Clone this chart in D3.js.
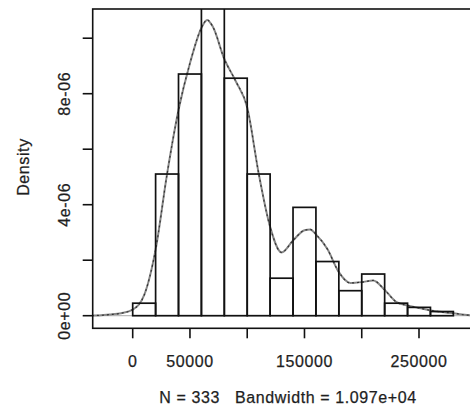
<!DOCTYPE html>
<html><head><meta charset="utf-8">
<script src="https://cdn.jsdelivr.net/npm/d3@7"></script>
<style>
html,body{margin:0;padding:0;background:#fff;}
svg{display:block;}
text{font-family:"Liberation Sans",Arial,sans-serif;fill:#1e1e1e;stroke:#1e1e1e;stroke-width:0.25;white-space:pre;letter-spacing:0.6px;}
</style></head>
<body>
<svg id="chart" width="470" height="409"></svg>
<script>
// Histogram (breaks and counts), N = 333
const N = 333;
const breaks = [0,20000,40000,60000,80000,100000,120000,140000,160000,180000,200000,220000,240000,260000,280000];
const counts = [3,34,58,77,57,34,9,26,13,6,10,3,2,1];

// Kernel density estimate (x, density)
const densX = [-40000,-30000,-20000,-10000,0,10000,20000,30000,40000,50000,60000,65000,70000,80000,90000,100000,110000,120000,130000,140000,150000,155000,160000,170000,180000,190000,200000,210000,220000,230000,240000,250000,260000,270000,280000,290000,300000];
const densY = [0.002e-6,0.01e-6,0.04e-6,0.09e-6,0.22e-6,0.74e-6,2.38e-6,5.1e-6,7.41e-6,9.1e-6,10.37e-6,10.66e-6,10.41e-6,9.25e-6,8.45e-6,7.5e-6,5.13e-6,3.2e-6,2.28e-6,2.71e-6,3.08e-6,3.11e-6,2.93e-6,2.4e-6,1.57e-6,1.18e-6,1.21e-6,1.27e-6,0.93e-6,0.5e-6,0.37e-6,0.28e-6,0.19e-6,0.13e-6,0.09e-6,0.03e-6,0.01e-6];

const xTicks = [0,50000,100000,150000,200000,250000];
const xTickLabels = ["0","50000","","150000","","250000"];
const yTicks = [0,2e-6,4e-6,6e-6,8e-6,1e-5];
const yTickLabels = ["0e+00","","4e-06","","8e-06",""];
const xTitle = "N = 333   Bandwidth = 1.097e+04";
const yTitle = "Density";

const svg = d3.select("#chart");
const box = {left:92.7, top:9, right:482, bottom:328.3};

const x = d3.scaleLinear().domain([0,250000]).range([132.7,419]);
const y = d3.scaleLinear().domain([0,1e-5]).range([315.7,38.2]);

svg.append("defs").append("clipPath").attr("id","clip")
  .append("rect").attr("x",box.left).attr("y",box.top)
  .attr("width",box.right-box.left).attr("height",box.bottom-box.top);

const plot = svg.append("g").attr("clip-path","url(#clip)");

// zero line
plot.append("line").attr("x1",box.left).attr("x2",box.right)
  .attr("y1",y(0)).attr("y2",y(0)).attr("stroke","#bbb").attr("stroke-width",1.2);

// density curve
const pts = densX.map((d,i)=>[d,densY[i]]);
const line = d3.line().x(d=>x(d[0])).y(d=>y(d[1])).curve(d3.curveMonotoneX);
plot.append("path").datum(pts).attr("d",line)
  .attr("fill","none").attr("stroke","#888").attr("stroke-width",2);
plot.append("path").datum(pts).attr("d",line)
  .attr("fill","none").attr("stroke","#333").attr("stroke-width",1.2)
  .attr("stroke-dasharray","2,3");

// histogram bars
const bins = counts.map((c,i)=>({x0:breaks[i],x1:breaks[i+1],d:c/(N*(breaks[i+1]-breaks[i]))}));
plot.selectAll("rect.bar").data(bins).enter().append("rect")
  .attr("class","bar")
  .attr("x",d=>x(d.x0)).attr("width",d=>x(d.x1)-x(d.x0))
  .attr("y",d=>y(d.d)).attr("height",d=>y(0)-y(d.d))
  .attr("fill","none").attr("stroke","#111").attr("stroke-width",1.7);

// box
svg.append("rect").attr("x",box.left).attr("y",box.top)
  .attr("width",box.right-box.left).attr("height",box.bottom-box.top)
  .attr("fill","none").attr("stroke","#111").attr("stroke-width",1.6);

// x axis
const xa = svg.append("g");
xa.selectAll("line").data(xTicks).enter().append("line")
  .attr("x1",d=>x(d)).attr("x2",d=>x(d)).attr("y1",box.bottom).attr("y2",box.bottom+10)
  .attr("stroke","#111").attr("stroke-width",1.6);
xa.selectAll("text").data(xTicks).enter().append("text")
  .attr("x",d=>x(d)).attr("y",366.5).attr("text-anchor","middle")
  .attr("font-size",16).text((d,i)=>xTickLabels[i]);

// y axis
const ya = svg.append("g");
ya.selectAll("line").data(yTicks).enter().append("line")
  .attr("x1",box.left-10).attr("x2",box.left).attr("y1",d=>y(d)).attr("y2",d=>y(d))
  .attr("stroke","#111").attr("stroke-width",1.6);
ya.selectAll("text").data(yTicks).enter().append("text")
  .attr("transform",d=>`translate(70,${y(d)}) rotate(-90)`)
  .attr("text-anchor","middle").attr("font-size",16).text((d,i)=>yTickLabels[i]);

// titles
svg.append("text").attr("x",288).attr("y",403).attr("text-anchor","middle")
  .attr("font-size",16).text(xTitle);
svg.append("text").attr("transform","translate(29,167) rotate(-90)")
  .attr("text-anchor","middle").attr("font-size",16).text(yTitle);
</script>
</body></html>
